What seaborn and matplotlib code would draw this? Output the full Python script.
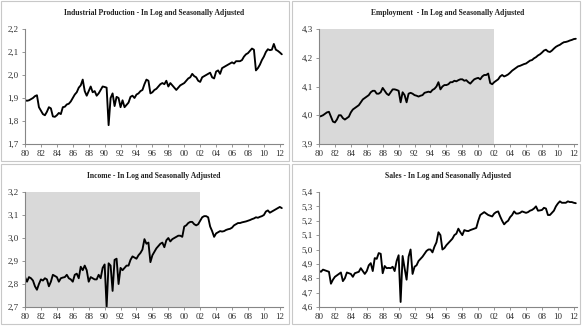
import numpy as np
import pandas as pd
import matplotlib
matplotlib.use('Agg')
import matplotlib.pyplot as plt
import seaborn as sns
from matplotlib.patches import Rectangle
from matplotlib.ticker import FuncFormatter

# Quarterly values, 1980Q1 onwards
industrial_production = [
    1.890, 1.888, 1.890, 1.895,  # 80
    1.900, 1.908, 1.912, 1.860,  # 81
    1.845, 1.830, 1.825, 1.840,  # 82
    1.860, 1.855, 1.820, 1.818,  # 83
    1.825, 1.835, 1.830, 1.860,  # 84
    1.862, 1.872, 1.875, 1.885,  # 85
    1.900, 1.915, 1.925, 1.945,  # 86
    1.955, 1.980, 1.930, 1.910,  # 87
    1.930, 1.950, 1.925, 1.930,  # 88
    1.910, 1.920, 1.935, 1.950,  # 89
    1.948, 1.945, 1.782, 1.900,  # 90
    1.920, 1.865, 1.905, 1.900,  # 91
    1.860, 1.890, 1.860, 1.870,  # 92
    1.880, 1.905, 1.910, 1.900,  # 93
    1.915, 1.920, 1.930, 1.935,  # 94
    1.960, 1.980, 1.975, 1.920,  # 95
    1.925, 1.935, 1.940, 1.950,  # 96
    1.960, 1.965, 1.960, 1.975,  # 97
    1.950, 1.965, 1.955, 1.945,  # 98
    1.935, 1.945, 1.955, 1.960,  # 99
    1.965, 1.975, 1.985, 1.990,  # 00
    2.005, 1.995, 1.990, 1.975,  # 01
    1.970, 1.990, 1.995, 2.000,  # 02
    2.005, 2.010, 1.990, 1.985,  # 03
    2.015, 2.020, 2.005, 2.030,  # 04
    2.035, 2.040, 2.045, 2.050,  # 05
    2.055, 2.050, 2.060, 2.060,  # 06
    2.060, 2.065, 2.080, 2.090,  # 07
    2.095, 2.105, 2.115, 2.110,  # 08
    2.020, 2.030, 2.045, 2.065,  # 09
    2.080, 2.100, 2.112, 2.108,  # 10
    2.110, 2.135, 2.110, 2.105,  # 11
    2.098, 2.090,                # 12
]

employment = [
    3.995, 3.997, 4.000, 4.005,
    4.010, 4.012, 3.995, 3.978,
    3.975, 3.985, 4.000, 4.000,
    3.990, 3.985, 3.990, 3.995,
    4.010, 4.020, 4.025, 4.030,
    4.035, 4.045, 4.055, 4.060,
    4.065, 4.070, 4.080, 4.085,
    4.085, 4.075, 4.075, 4.080,
    4.095, 4.085, 4.075, 4.070,
    4.080, 4.090, 4.090, 4.088,
    4.085, 4.045, 4.080, 4.070,
    4.045, 4.075, 4.078, 4.075,
    4.070, 4.068, 4.065, 4.068,
    4.070, 4.078, 4.080, 4.082,
    4.080, 4.088, 4.092, 4.100,
    4.115, 4.090, 4.100, 4.105,
    4.105, 4.108, 4.115, 4.115,
    4.120, 4.118, 4.122, 4.125,
    4.125, 4.120, 4.122, 4.115,
    4.110, 4.118, 4.125, 4.128,
    4.130, 4.125, 4.135, 4.140,
    4.140, 4.145, 4.112, 4.108,
    4.115, 4.120, 4.125, 4.135,
    4.140, 4.135, 4.138, 4.142,
    4.148, 4.155, 4.160, 4.165,
    4.170, 4.172, 4.175, 4.178,
    4.180, 4.185, 4.190, 4.192,
    4.198, 4.202, 4.208, 4.212,
    4.218, 4.225, 4.228, 4.222,
    4.220, 4.225, 4.232, 4.238,
    4.242, 4.245, 4.250, 4.254,
    4.255, 4.257, 4.260, 4.262,
    4.265, 4.266,
]

income = [
    2.830, 2.810, 2.830, 2.825,
    2.815, 2.790, 2.775, 2.800,
    2.820, 2.815, 2.825, 2.820,
    2.790, 2.810, 2.840, 2.835,
    2.830, 2.810, 2.825, 2.828,
    2.830, 2.840, 2.825, 2.820,
    2.810, 2.840, 2.845, 2.825,
    2.875, 2.860, 2.880, 2.860,
    2.810, 2.830, 2.825, 2.820,
    2.820, 2.840, 2.825, 2.870,
    2.885, 2.700, 2.890, 2.880,
    2.770, 2.905, 2.910, 2.800,
    2.870, 2.860, 2.870, 2.880,
    2.880, 2.905, 2.920, 2.915,
    2.910, 2.925, 2.935, 2.950,
    2.995, 2.975, 2.980, 2.895,
    2.925, 2.940, 2.955, 2.965,
    2.975, 2.980, 2.960, 2.990,
    3.000, 2.985, 2.995, 3.000,
    3.005, 3.010, 3.010, 3.005,
    3.050, 3.055, 3.065, 3.070,
    3.070, 3.060, 3.055, 3.060,
    3.075, 3.090, 3.095, 3.095,
    3.090, 3.050, 3.030, 3.005,
    3.020, 3.025, 3.030, 3.028,
    3.030, 3.035, 3.038, 3.040,
    3.045, 3.055, 3.060, 3.065,
    3.065, 3.068, 3.070, 3.072,
    3.075, 3.078, 3.082, 3.085,
    3.090, 3.088, 3.092, 3.095,
    3.100, 3.115, 3.120, 3.110,
    3.115, 3.120, 3.125, 3.130,
    3.135, 3.130,
]

sales = [
    4.852, 4.845, 4.860, 4.855,
    4.850, 4.845, 4.762, 4.790,
    4.810, 4.820, 4.830, 4.840,
    4.780, 4.800, 4.840, 4.835,
    4.830, 4.810, 4.835, 4.840,
    4.845, 4.870, 4.850, 4.830,
    4.850, 4.890, 4.905, 4.850,
    4.940, 4.935, 4.975, 4.970,
    4.835, 4.885, 4.870, 4.872,
    4.870, 4.880, 4.850, 4.920,
    4.960, 4.635, 4.955, 4.870,
    4.790, 4.950, 5.000, 4.830,
    4.880, 4.890, 4.920, 4.935,
    4.950, 4.970, 4.990, 5.000,
    5.000, 4.980, 5.020, 5.050,
    5.120, 5.100, 5.000, 5.010,
    5.030, 5.045, 5.060, 5.075,
    5.100, 5.110, 5.145, 5.120,
    5.100, 5.135, 5.130, 5.128,
    5.135, 5.140, 5.145, 5.150,
    5.200, 5.240, 5.250, 5.260,
    5.250, 5.240, 5.235, 5.230,
    5.250, 5.260, 5.265, 5.230,
    5.200, 5.175, 5.190, 5.200,
    5.225, 5.240, 5.265, 5.250,
    5.250, 5.255, 5.265, 5.260,
    5.255, 5.260, 5.270, 5.275,
    5.285, 5.300, 5.270, 5.272,
    5.275, 5.290, 5.285, 5.240,
    5.240, 5.255, 5.270, 5.300,
    5.320, 5.335, 5.325, 5.325,
    5.325, 5.335, 5.330, 5.330,
    5.325, 5.322,
]

titles = [
    'Industrial Production - In Log and Seasonally Adjusted',
    'Employment  - In Log and Seasonally Adjusted',
    'Income - In Log and Seasonally Adjusted',
    'Sales - In Log and Seasonally Adjusted',
]
series_list = [industrial_production, employment, income, sales]
y_limits = [(1.7, 2.2), (3.9, 4.3), (2.7, 3.2), (4.6, 5.4)]
shaded = [False, True, True, False]
year_ticks = list(range(1980, 2013, 2))
year_labels = [f"{y % 100:02d}" for y in year_ticks]

W, H = 582, 326
# axes boxes in pixels: left, top, right, bottom
boxes = [(25, 29, 283, 144), (319, 29, 577, 144),
         (25, 192, 283, 307), (319, 192, 577, 307)]
frames = [(1, 1, 289, 161), (292, 1, 580, 161),
          (1, 164, 289, 324), (292, 164, 580, 324)]

sns.set_style('white')
plt.rcParams['font.family'] = ['Liberation Serif', 'DejaVu Serif']

fig = plt.figure(figsize=(W / 100, H / 100), dpi=100)

for (l, t, r, b) in frames:
    fig.patches.append(Rectangle((l / W, 1 - b / H), (r - l) / W, (b - t) / H,
                                 transform=fig.transFigure, fill=False,
                                 edgecolor='#c8c8c8', linewidth=0.8))

comma = FuncFormatter(lambda v, pos: f"{v:.1f}".replace('.', ','))

for i, vals in enumerate(series_list):
    l, t, r, b = boxes[i]
    ax = fig.add_axes([l / W, 1 - b / H, (r - l) / W, (b - t) / H])
    df = pd.DataFrame({'date': 1980 + np.arange(len(vals)) / 4.0, 'value': vals})
    if shaded[i]:
        ax.axvspan(1980, 2002, color='#d9d9d9', lw=0, zorder=0)
    sns.lineplot(data=df, x='date', y='value', ax=ax, color='black',
                 linewidth=1.35)
    ax.set_xlim(1980, 2012.4)
    ax.set_ylim(*y_limits[i])
    lo, hi = y_limits[i]
    ax.set_yticks(np.round(np.arange(lo, hi + 0.001, 0.1), 1))
    ax.yaxis.set_major_formatter(comma)
    ax.set_xticks(year_ticks)
    ax.set_xticklabels(year_labels)
    ax.set_xlabel('')
    ax.set_ylabel('')
    for s in ['top', 'right']:
        ax.spines[s].set_visible(False)
    for s in ['left', 'bottom']:
        ax.spines[s].set_color('#868686')
        ax.spines[s].set_linewidth(0.8)
    ax.tick_params(axis='both', which='major', labelsize=6.5,
                   length=2.5, width=0.6, pad=2, direction='out',
                   bottom=True, left=True, colors='#868686',
                   labelcolor='#303030')
    ax.set_title(titles[i], fontsize=5.5, fontweight='bold', pad=10,
                 color='#202020')

fig.savefig('out.png', dpi=100)
